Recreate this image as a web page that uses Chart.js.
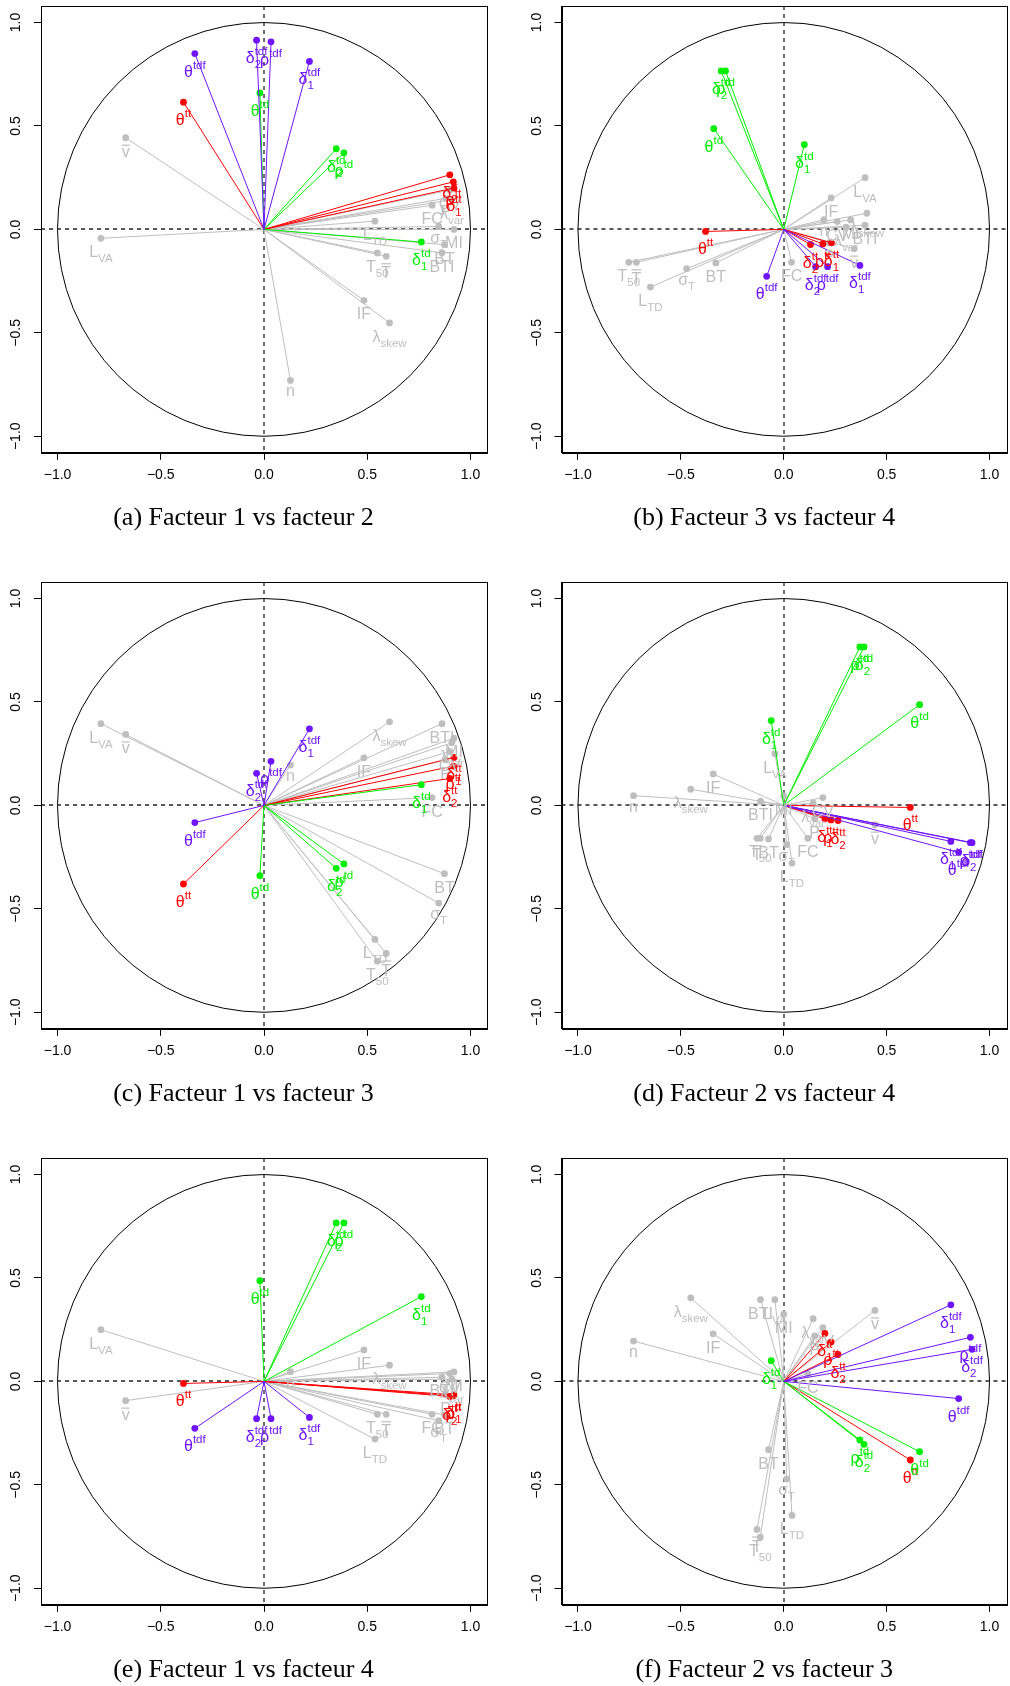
<!DOCTYPE html>
<html>
<head>
<meta charset="utf-8">
<script src="https://cdn.jsdelivr.net/npm/chart.js@4.4.0/dist/chart.umd.min.js"></script>
<style>
  body { margin: 0; background: #fff; width: 1010px; height: 1686px; overflow: hidden; position: relative; }
  .panel { position: absolute; width: 505px; height: 562px; }
</style>
</head>
<body>
<div class="panel" style="left:0;top:0"><canvas id="p0"></canvas></div>
<div class="panel" style="left:505px;top:0"><canvas id="p1"></canvas></div>
<div class="panel" style="left:0;top:576px"><canvas id="p2"></canvas></div>
<div class="panel" style="left:505px;top:576px"><canvas id="p3"></canvas></div>
<div class="panel" style="left:0;top:1152px"><canvas id="p4"></canvas></div>
<div class="panel" style="left:505px;top:1152px"><canvas id="p5"></canvas></div>
<script>
// variable names: '~' = overbar, '_' = subscript, '^' = superscript
const varLabels = ['~v', 'L_VA', 'L_TD', 'T_50', '~T', 'IF', 'λ_skew', 'λ_var', 'n', 'FC',
  'σ_T', 'MI', 'BT', 'BTI', 'CV', 'P',
  'θ^tt', 'δ_1^tt', 'δ_2^tt', 'ρ^tt',
  'θ^td', 'δ_1^td', 'δ_2^td', 'ρ^td',
  'θ^tdf', 'δ_1^tdf', 'δ_2^tdf', 'ρ^tdf'];
const varGroups = ['other', 'other', 'other', 'other', 'other', 'other', 'other', 'other', 'other', 'other',
  'other', 'other', 'other', 'other', 'other', 'other',
  'tt', 'tt', 'tt', 'tt',
  'td', 'td', 'td', 'td',
  'tdf', 'tdf', 'tdf', 'tdf'];

// correlations with the four factors
const factor1 = [-0.67, -0.79, 0.537, 0.549, 0.592, 0.484, 0.608, 0.91, 0.128, 0.814,
  0.846, 0.92, 0.874, 0.862, 0.90, 0.88,
  -0.39, 0.92, 0.90, 0.917,
  -0.02, 0.762, 0.35, 0.387,
  -0.335, 0.22, -0.036, 0.034];
const factor2 = [0.443, -0.043, 0.04, -0.114, -0.13, -0.343, -0.452, 0.143, -0.73, 0.117,
  0.014, 0.0, -0.074, -0.113, 0.19, 0.15,
  0.615, 0.20, 0.264, 0.23,
  0.66, -0.061, 0.39, 0.37,
  0.85, 0.812, 0.915, 0.907];
const factor3 = [0.343, 0.395, -0.648, -0.753, -0.716, 0.23, 0.404, 0.303, 0.195, 0.038,
  -0.472, 0.325, -0.33, 0.395, 0.26, 0.22,
  -0.38, 0.232, 0.13, 0.19,
  -0.34, 0.10, -0.304, -0.283,
  -0.083, 0.37, 0.155, 0.213];
const factor4 = [-0.093, 0.25, -0.279, -0.159, -0.159, 0.152, 0.078, 0.011, 0.047, -0.159,
  -0.19, 0.046, -0.162, 0.02, 0.038, -0.065,
  -0.01, -0.065, -0.073, -0.07,
  0.487, 0.41, 0.766, 0.766,
  -0.227, -0.174, -0.18, -0.18];

const tickValues = [-1, -0.5, 0, 0.5, 1];
const tickLabels = ['\u22121.0', '\u22120.5', '0.0', '0.5', '1.0'];

const panelTitles = ['(a) Facteur 1 vs facteur 2', '(b) Facteur 3 vs facteur 4',
  '(c) Facteur 1 vs facteur 3', '(d) Facteur 2 vs facteur 4',
  '(e) Facteur 1 vs facteur 4', '(f) Facteur 2 vs facteur 3'];
const panelX = [1, 3, 1, 2, 1, 2];
const panelY = [2, 4, 3, 4, 4, 3];

const factors = [factor1, factor2, factor3, factor4];
const groupColors = { other: '#BEBEBE', tt: '#FF0000', td: '#00EE00', tdf: '#6E14FF' };
const groupOrder = { other: 4, tt: 3, td: 2, tdf: 1 };
const drawSequence = ['other', 'tt', 'td', 'tdf'];

const BASE_FONT = '16px "Liberation Sans"';
const SMALL_FONT = '11.5px "Liberation Sans"';

Chart.defaults.font.family = 'Liberation Sans';

function parseLabel(s) {
  let bar = false;
  if (s[0] === '~') { bar = true; s = s.slice(1); }
  let sub = '', sup = '';
  const iSup = s.indexOf('^');
  if (iSup >= 0) { sup = s.slice(iSup + 1); s = s.slice(0, iSup); }
  const iSub = s.indexOf('_');
  if (iSub >= 0) { sub = s.slice(iSub + 1); s = s.slice(0, iSub); }
  return { bar: bar, base: s, sub: sub, sup: sup };
}

// label centred below the point, like text(pos = 1) in R
function drawLabel(ctx, text, px, py, color) {
  const L = parseLabel(text);
  const supRise = 8, subDrop = 5;
  ctx.font = BASE_FONT;
  const mb = ctx.measureText(L.base);
  ctx.font = SMALL_FONT;
  const ms = ctx.measureText(L.sub);
  const mp = ctx.measureText(L.sup);
  const extra = Math.max(L.sub ? ms.width : 0, L.sup ? mp.width : 0);
  const w = mb.width + extra;
  let ascent = mb.actualBoundingBoxAscent + (L.bar ? 3 : 0);
  if (L.sup) ascent = Math.max(ascent, supRise + mp.actualBoundingBoxAscent);
  const baseline = py + 7 + ascent;
  const x = px - w / 2;
  ctx.fillStyle = color;
  ctx.textAlign = 'left';
  ctx.textBaseline = 'alphabetic';
  ctx.font = BASE_FONT;
  ctx.fillText(L.base, x, baseline);
  if (L.bar) {
    const yb = baseline - mb.actualBoundingBoxAscent - 2.5;
    ctx.strokeStyle = color;
    ctx.lineWidth = 1.2;
    ctx.beginPath();
    ctx.moveTo(x, yb);
    ctx.lineTo(x + mb.width, yb);
    ctx.stroke();
  }
  ctx.font = SMALL_FONT;
  if (L.sub) ctx.fillText(L.sub, x + mb.width, baseline + subDrop);
  if (L.sup) ctx.fillText(L.sup, x + mb.width, baseline - supRise);
}

const circlePlot = {
  id: 'circlePlot',
  beforeDatasetsDraw(chart) {
    const { ctx, chartArea: a, scales: { x, y } } = chart;
    const x0 = x.getPixelForValue(0), y0 = y.getPixelForValue(0);
    const rx = x.getPixelForValue(1) - x0, ry = y0 - y.getPixelForValue(1);
    ctx.save();
    ctx.strokeStyle = '#000';
    ctx.lineWidth = 1;
    ctx.beginPath();
    ctx.ellipse(x0, y0, rx, ry, 0, 0, Math.PI * 2);
    ctx.stroke();
    ctx.strokeStyle = '#222';
    ctx.lineWidth = 1.3;
    ctx.setLineDash([4, 4]);
    ctx.beginPath();
    ctx.moveTo(a.left, Math.round(y0));
    ctx.lineTo(a.right, Math.round(y0));
    ctx.moveTo(Math.round(x0), a.top);
    ctx.lineTo(Math.round(x0), a.bottom);
    ctx.stroke();
    ctx.restore();
  },
  afterDatasetsDraw(chart) {
    const { ctx, chartArea: a, scales: { x, y } } = chart;
    const k = chart.options.plugins.circlePlot.panel;
    const xs = factors[panelX[k] - 1], ys = factors[panelY[k] - 1];
    ctx.save();
    drawSequence.forEach(g => {
      varLabels.forEach((lab, i) => {
        if (varGroups[i] !== g) return;
        drawLabel(ctx, lab, x.getPixelForValue(xs[i]), y.getPixelForValue(ys[i]), groupColors[g]);
      });
    });
    // box
    ctx.strokeStyle = '#000';
    ctx.lineWidth = 1;
    ctx.strokeRect(Math.round(a.left) + 0.5, Math.round(a.top) + 0.5,
      Math.round(a.right - a.left), Math.round(a.bottom - a.top));
    // rotated y tick labels
    ctx.font = '14px "Liberation Sans"';
    ctx.fillStyle = '#000';
    ctx.textAlign = 'center';
    ctx.textBaseline = 'middle';
    tickValues.forEach((v, i) => {
      ctx.save();
      ctx.translate(a.left - 24.5, y.getPixelForValue(v));
      ctx.rotate(-Math.PI / 2);
      ctx.fillText(tickLabels[i], 0, 0);
      ctx.restore();
    });
    ctx.restore();
  }
};

function makeChart(k) {
  const xs = factors[panelX[k] - 1], ys = factors[panelY[k] - 1];
  const rightCol = k % 2 === 1;
  const datasets = varLabels.map((lab, i) => {
    const color = groupColors[varGroups[i]];
    return {
      label: lab,
      data: [{ x: 0, y: 0 }, { x: xs[i], y: ys[i] }],
      showLine: true,
      borderColor: color,
      borderWidth: 1,
      pointRadius: [0, 3.4],
      pointBackgroundColor: color,
      pointBorderWidth: 0,
      order: groupOrder[varGroups[i]]
    };
  });
  const axisCommon = {
    type: 'linear',
    min: -1.08,
    max: 1.08,
    afterBuildTicks: s => { s.ticks = tickValues.map(v => ({ value: v })); },
    grid: { display: true, drawOnChartArea: false, drawTicks: true, tickLength: 7, color: '#000', lineWidth: 1 },
    border: { display: true, color: '#000', width: 1 }
  };
  new Chart(document.getElementById('p' + k), {
    type: 'scatter',
    data: { datasets: datasets },
    options: {
      responsive: true,
      maintainAspectRatio: false,
      animation: false,
      events: [],
      devicePixelRatio: 1,
      layout: { padding: { top: 6, bottom: 0, left: rightCol ? 15.5 : 0, right: rightCol ? 2 : 18 } },
      scales: {
        x: Object.assign({}, axisCommon, {
          afterFit: s => { s.height = 40; },
          ticks: {
            autoSkip: false,
            maxRotation: 0,
            padding: 7,
            color: '#000',
            font: { size: 14 },
            callback: (v, i) => tickLabels[i]
          }
        }),
        y: Object.assign({}, axisCommon, {
          afterFit: s => { s.width = 41; },
          ticks: { display: false }
        })
      },
      plugins: {
        legend: { display: false },
        tooltip: { enabled: false },
        title: {
          display: true,
          position: 'bottom',
          text: panelTitles[k],
          color: '#000',
          font: { family: 'Liberation Serif', size: 26, weight: 'normal' },
          padding: { top: 10, bottom: 28 }
        },
        circlePlot: { panel: k }
      }
    },
    plugins: [circlePlot]
  });
}

for (let k = 0; k < 6; k++) makeChart(k);
</script>
</body>
</html>
